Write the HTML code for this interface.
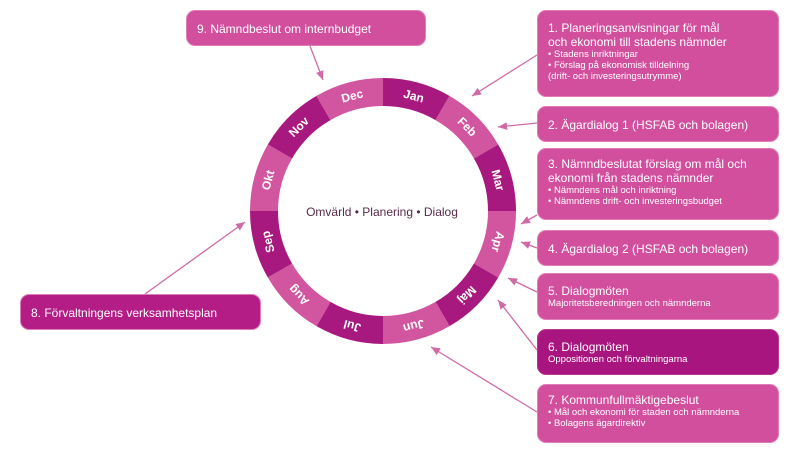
<!DOCTYPE html>
<html><head><style>
body{margin:0;width:801px;height:452px;background:#fff;font-family:"Liberation Sans",sans-serif;position:relative;overflow:hidden}
.b{position:absolute;background:#d24f9e;border:1px solid #e07cb8;border-radius:9px;color:#fff;box-sizing:border-box;padding:0 10px;font-size:12px;line-height:14px}
.s{font-size:9.5px;line-height:11px}
</style></head><body>
<svg width="801" height="452" style="position:absolute;left:0;top:0">
<defs><marker id="a" markerWidth="8" markerHeight="8" refX="7" refY="4" orient="auto"><path d="M0,1 L7,4 L0,7z" fill="#d06aa6"/></marker></defs>
<g id="ring"></g>
<g stroke="#d06aa6" stroke-width="1.3" marker-end="url(#a)">
<line x1="537" y1="55" x2="472" y2="96"/>
<line x1="537" y1="123" x2="498" y2="127"/>
<line x1="537" y1="215" x2="521" y2="224"/>
<line x1="537" y1="248" x2="521" y2="242"/>
<line x1="537" y1="292" x2="508" y2="278"/>
<line x1="537" y1="350" x2="498" y2="300"/>
<line x1="537" y1="412" x2="431" y2="347"/>
<line x1="310" y1="46" x2="323" y2="80"/>
<line x1="145" y1="294" x2="245" y2="222"/>
</g>
<text x="382" y="216" text-anchor="middle" font-size="12" fill="#5a2a4a" font-family="Liberation Sans">Omvärld • Planering • Dialog</text>
</svg>
<div class="b" style="left:186px;top:10px;width:240px;height:36px;padding-top:11px">9. Nämndbeslut om internbudget</div>
<div class="b" style="left:20px;top:294px;width:241px;height:36px;padding-top:11px;background:#b51d86">8. Förvaltningens verksamhetsplan</div>
<div class="b" style="left:537px;top:10px;width:242px;height:87px;padding-top:10px">1. Planeringsanvisningar för mål<br>och ekonomi till stadens nämnder<div class="s">• Stadens inriktningar<br>• Förslag på ekonomisk tilldelning<br>(drift- och investeringsutrymme)</div></div>
<div class="b" style="left:537px;top:106px;width:242px;height:36px;padding-top:11px">2. Ägardialog 1 (HSFAB och bolagen)</div>
<div class="b" style="left:537px;top:148px;width:242px;height:72px;padding-top:8px">3. Nämndbeslutat förslag om mål och<br>ekonomi från stadens nämnder<div class="s">• Nämndens mål och inriktning<br>• Nämndens drift- och investeringsbudget</div></div>
<div class="b" style="left:537px;top:230px;width:242px;height:36px;padding-top:11px">4. Ägardialog 2 (HSFAB och bolagen)</div>
<div class="b" style="left:537px;top:273px;width:242px;height:47px;padding-top:10px">5. Dialogmöten<div class="s">Majoritetsberedningen och nämnderna</div></div>
<div class="b" style="left:537px;top:329px;width:242px;height:46px;padding-top:10px;background:#a8157f;border-color:#b83a8f">6. Dialogmöten<div class="s">Oppositionen och förvaltningarna</div></div>
<div class="b" style="left:537px;top:384px;width:242px;height:59px;padding-top:8px">7. Kommunfullmäktigebeslut<div class="s">• Mål och ekonomi för staden och nämnderna<br>• Bolagens ägardirektiv</div></div>
<script>
var g=document.getElementById('ring'),cx=383,cy=211,R=133,r=105,m=["Jan","Feb","Mar","Apr","Maj","Jun","Jul","Aug","Sep","Okt","Nov","Dec"],h='';
function p(rad,a){a=a*Math.PI/180;return [cx+rad*Math.sin(a),cy-rad*Math.cos(a)];}
for(var i=0;i<12;i++){var a0=i*30,a1=a0+30,A=p(R,a0),B=p(R,a1),C=p(r,a1),D=p(r,a0);
h+='<path d="M'+A+' A'+R+','+R+' 0 0 1 '+B+' L'+C+' A'+r+','+r+' 0 0 0 '+D+'z" fill="'+(i%2?'#d1559f':'#a8197f')+'"/>';
var t=p(119,a0+15);h+='<text x="'+t[0]+'" y="'+t[1]+'" transform="rotate('+(a0+15)+' '+t[0]+' '+t[1]+')" text-anchor="middle" dominant-baseline="central" fill="#fff" font-size="12" font-weight="bold" font-family="Liberation Sans">'+m[i]+'</text>';}
g.innerHTML=h;
</script>
</body></html>
